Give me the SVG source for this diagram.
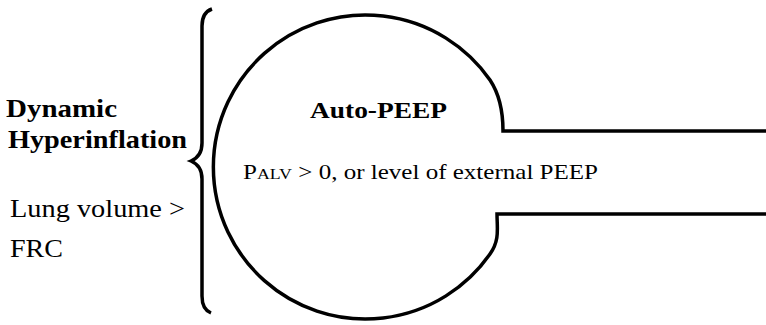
<svg xmlns="http://www.w3.org/2000/svg" width="766" height="325" viewBox="0 0 766 325">
<style>
.ln{fill:none;stroke:#000;stroke-width:3.5;stroke-linejoin:miter}
.b{font-family:"Liberation Serif","Times New Roman",serif;font-weight:bold;fill:#000}
.r{font-family:"Liberation Serif","Times New Roman",serif;fill:#000}
</style>
<rect width="766" height="325" fill="#fff"/>
<g id="lung">
<path class="ln" d="M 766,131 H 503 C 503,112 500,95 490,80 A 152 152 0 1 0 490,254 C 500,240 497,228 497,214 H 766"/>
<text class="b" x="310" y="118" font-size="23" textLength="137" lengthAdjust="spacingAndGlyphs">Auto-PEEP</text>
<text class="r" x="243" y="179" font-size="21" textLength="355" lengthAdjust="spacingAndGlyphs">P<tspan font-size="15">ALV</tspan> &gt; 0, or level of external PEEP</text>
</g>
<g id="brace">
<path class="ln" d="M 212,9 C 206,11 202,16 202,26 L 202,143 C 202,153 198,158 191,161 C 198,164 202,169 202,179 L 202,296 C 202,306 206,311 211,313"/>
</g>
<g id="labels">
<text class="b" x="6" y="117" font-size="25" textLength="111" lengthAdjust="spacingAndGlyphs">Dynamic</text>
<text class="b" x="8" y="148" font-size="25" textLength="179" lengthAdjust="spacingAndGlyphs">Hyperinflation</text>
<text class="r" x="10" y="217" font-size="25" textLength="175" lengthAdjust="spacingAndGlyphs">Lung volume &gt;</text>
<text class="r" x="10" y="257" font-size="25" textLength="53" lengthAdjust="spacingAndGlyphs">FRC</text>
</g>
</svg>
